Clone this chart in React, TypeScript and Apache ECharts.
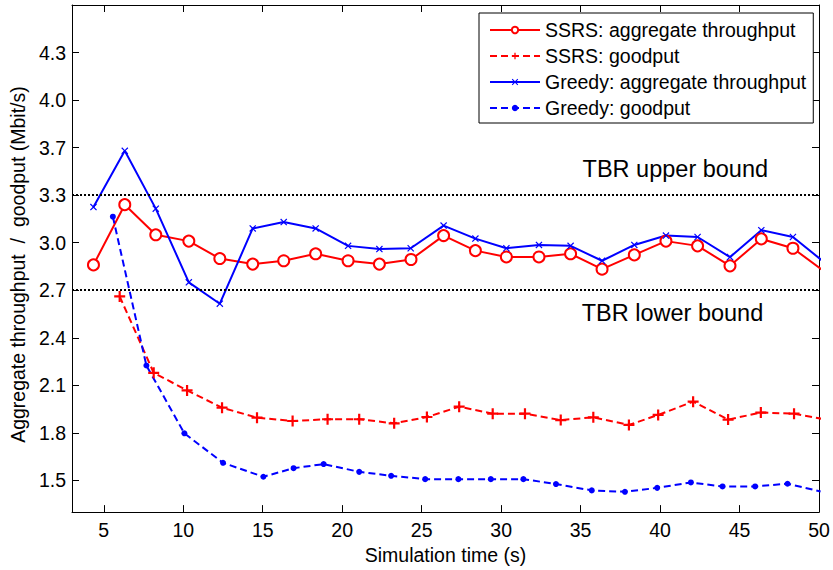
import React, { useEffect, useRef } from 'react';
import * as echarts from 'echarts';

const xTicks = [5, 10, 15, 20, 25, 30, 35, 40, 45, 50];
const yTickValues = [1.5, 1.8, 2.1, 2.4, 2.7, 3.0, 3.3, 3.6, 3.9, 4.2];
const yTickLabels = ['1.5', '1.8', '2.1', '2.4', '2.7', '3.0', '3.3', '3.7', '4.0', '4.3'];

const ssrsAggX = [4.35, 6.32, 8.27, 10.35, 12.3, 14.37, 16.32, 18.33, 20.37, 22.34, 24.33, 26.38, 28.38, 30.33, 32.38, 34.37, 36.35, 38.38, 40.37, 42.36, 44.4, 46.37, 48.36, 50.35];
const ssrsAggY = [2.86, 3.24, 3.05, 3.01, 2.9, 2.865, 2.886, 2.93, 2.886, 2.865, 2.894, 3.045, 2.95, 2.91, 2.91, 2.93, 2.833, 2.923, 3.01, 2.98, 2.854, 3.024, 2.965, 2.817];

const ssrsGoodX = [6.0, 8.14, 10.24, 12.44, 14.64, 16.88, 19.08, 21.07, 23.27, 25.33, 27.36, 29.47, 31.5, 33.75, 35.8, 38.04, 39.88, 42.08, 44.28, 46.34, 48.43, 50.5];
const ssrsGoodY = [2.661, 2.179, 2.068, 1.959, 1.896, 1.875, 1.886, 1.886, 1.86, 1.9, 1.965, 1.921, 1.921, 1.881, 1.898, 1.85, 1.913, 1.997, 1.884, 1.928, 1.921, 1.883];

const greedyAggX = [4.35, 6.32, 8.27, 10.35, 12.3, 14.37, 16.32, 18.33, 20.37, 22.34, 24.31, 26.38, 28.38, 30.33, 32.38, 34.37, 36.35, 38.38, 40.37, 42.36, 44.4, 46.37, 48.36, 50.35];
const greedyAggY = [3.225, 3.58, 3.215, 2.75, 2.615, 3.09, 3.13, 3.09, 2.98, 2.96, 2.965, 3.108, 3.026, 2.965, 2.986, 2.98, 2.886, 2.986, 3.045, 3.036, 2.909, 3.079, 3.036, 2.875];

const greedyGoodX = [5.57, 7.68, 10.07, 12.5, 15.04, 16.94, 18.83, 21.07, 23.08, 25.22, 27.31, 29.35, 31.4, 33.45, 35.7, 37.79, 39.82, 41.94, 43.93, 45.98, 48.02, 50.1];
const greedyGoodY = [3.164, 2.225, 1.797, 1.611, 1.523, 1.577, 1.603, 1.554, 1.529, 1.508, 1.508, 1.508, 1.508, 1.477, 1.437, 1.428, 1.453, 1.487, 1.462, 1.462, 1.479, 1.43];

const boundValues = [3.3, 2.7];
const annotations = [
  { text: 'TBR upper bound', x: 40.96, y: 3.462 },
  { text: 'TBR lower bound', x: 40.78, y: 2.554 },
];

const FONT = '"Liberation Sans", Arial, Helvetica, sans-serif';
const PLUS = 'path://M4,0 L6,0 L6,4 L10,4 L10,6 L6,6 L6,10 L4,10 L4,6 L0,6 L0,4 L4,4 Z';
const XMARK = 'path://M1.2,0 L5,3.8 L8.8,0 L10,1.2 L6.2,5 L10,8.8 L8.8,10 L5,6.2 L1.2,10 L0,8.8 L3.8,5 L0,1.2 Z';

const zip = (xs: number[], ys: number[]) => xs.map((x, i) => [x, ys[i]]);

export default function App() {
  const ref = useRef<HTMLDivElement>(null);
  useEffect(() => {
    if (!ref.current) return;
    const chart = echarts.init(ref.current, undefined, { renderer: 'svg' });
    const axisCommon = {
      type: 'value' as const,
      splitLine: { show: false },
      axisLine: { show: true, onZero: false, lineStyle: { color: '#000', width: 1 } },
    };
    chart.setOption({
      animation: false,
      backgroundColor: '#fff',
      textStyle: { fontFamily: FONT },
      grid: { left: 71, right: 14, top: 5, bottom: 57, containLabel: false },
      legend: {
        orient: 'vertical',
        left: 479,
        top: 13,
        padding: [7, 7, 5, 10],
        itemWidth: 50,
        itemHeight: 8,
        itemGap: 6,
        borderColor: '#000',
        borderWidth: 1,
        backgroundColor: '#fff',
        textStyle: { fontSize: 19.5, color: '#000', fontFamily: FONT },
        data: ['SSRS: aggregate throughput', 'SSRS: goodput', 'Greedy: aggregate throughput', 'Greedy: goodput'],
      },
      xAxis: [
        {
          ...axisCommon,
          position: 'bottom',
          min: 3,
          max: 50,
          name: 'Simulation time (s)',
          nameLocation: 'middle',
          nameGap: 29,
          nameTextStyle: { fontSize: 19.5, color: '#000', fontFamily: FONT },
          axisTick: { show: true, inside: true, length: 7, customValues: xTicks, lineStyle: { color: '#000' } },
          axisLabel: { show: true, customValues: xTicks, fontSize: 19.5, color: '#000', margin: 8, fontFamily: FONT },
        },
        {
          ...axisCommon,
          position: 'top',
          min: 3,
          max: 50,
          axisTick: { show: true, inside: true, length: 7, customValues: xTicks, lineStyle: { color: '#000' } },
          axisLabel: { show: false },
        },
      ],
      yAxis: [
        {
          ...axisCommon,
          position: 'left',
          min: 1.3,
          max: 4.5,
          name: 'Aggregate throughput  /  goodput (Mbit/s)',
          nameLocation: 'middle',
          nameGap: 40,
          nameTextStyle: { fontSize: 19.5, color: '#000', fontFamily: FONT, padding: [0, 12, 0, 0] },
          axisTick: { show: true, inside: true, length: 7, customValues: yTickValues, lineStyle: { color: '#000' } },
          axisLabel: {
            show: true,
            customValues: yTickValues,
            fontSize: 19.5,
            color: '#000',
            margin: 6,
            fontFamily: FONT,
            formatter: (v: number) => {
              let best = 0;
              yTickValues.forEach((t, i) => {
                if (Math.abs(t - v) < Math.abs(yTickValues[best] - v)) best = i;
              });
              return yTickLabels[best];
            },
          },
        },
        {
          ...axisCommon,
          position: 'right',
          min: 1.3,
          max: 4.5,
          axisTick: { show: true, inside: true, length: 7, customValues: yTickValues, lineStyle: { color: '#000' } },
          axisLabel: { show: false },
        },
      ],
      series: [
        {
          name: 'SSRS: aggregate throughput',
          type: 'line',
          data: zip(ssrsAggX, ssrsAggY),
          symbol: 'emptyCircle',
          symbolSize: 11,
          showAllSymbol: true,
          color: '#ff0000',
          lineStyle: { color: '#ff0000', width: 2 },
          itemStyle: { color: '#ff0000', borderColor: '#ff0000', borderWidth: 2 },
          markLine: {
            silent: true,
            symbol: 'none',
            label: { show: false },
            lineStyle: { color: '#000', type: [2, 2], width: 2 },
            data: boundValues.map((v) => ({ yAxis: v })),
          },
          markPoint: {
            silent: true,
            symbol: 'circle',
            symbolSize: 0,
            data: annotations.map((a) => ({
              coord: [a.x, a.y],
              label: { show: true, position: 'inside', formatter: a.text, fontSize: 23.5, color: '#000', fontFamily: FONT },
            })),
          },
        },
        {
          name: 'SSRS: goodput',
          type: 'line',
          data: zip(ssrsGoodX, ssrsGoodY),
          symbol: PLUS,
          symbolSize: 11,
          showAllSymbol: true,
          color: '#ff0000',
          lineStyle: { color: '#ff0000', width: 2, type: [7, 4] },
          itemStyle: { color: '#ff0000', borderWidth: 0 },
        },
        {
          name: 'Greedy: aggregate throughput',
          type: 'line',
          data: zip(greedyAggX, greedyAggY),
          symbol: XMARK,
          symbolSize: 7,
          showAllSymbol: true,
          color: '#0000ff',
          lineStyle: { color: '#0000ff', width: 2 },
          itemStyle: { color: '#0000ff', borderWidth: 0 },
        },
        {
          name: 'Greedy: goodput',
          type: 'line',
          data: zip(greedyGoodX, greedyGoodY),
          symbol: 'circle',
          symbolSize: 6,
          showAllSymbol: true,
          color: '#0000ff',
          lineStyle: { color: '#0000ff', width: 2, type: [7, 4] },
          itemStyle: { color: '#0000ff', borderWidth: 0 },
        },
      ],
    });
    return () => chart.dispose();
  }, []);
  return <div ref={ref} style={{ position: 'absolute', left: 0, top: 0, width: 833, height: 570 }} />;
}
